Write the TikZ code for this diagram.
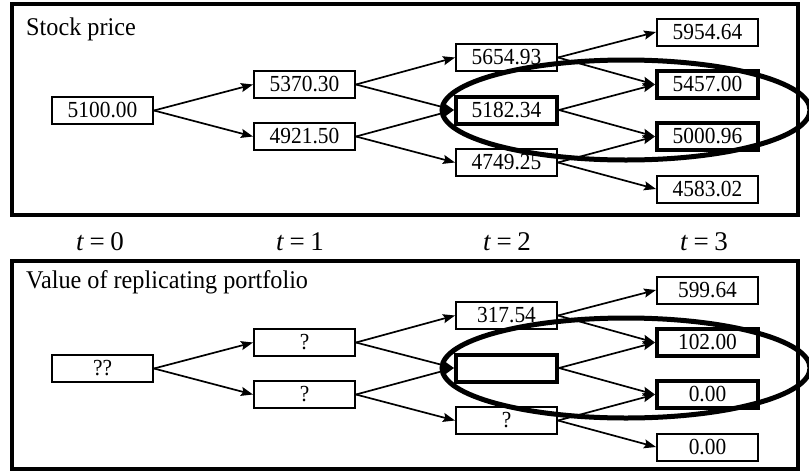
\documentclass[tikz,border=0pt]{standalone}
\usepackage{fontspec}
\setmainfont{Liberation Serif}
\newfontfamily\nodefont[FakeStretch=0.93]{Liberation Serif}
\newfontfamily\ttlfont[FakeStretch=0.95]{Liberation Serif}
\usetikzlibrary{arrows.meta}
\tikzset{
  box/.style={draw=black, line width=2pt, fill=white, minimum width=101pt, minimum height=27pt, inner sep=0pt, font=\nodefont\fontsize{23}{26}\selectfont},
  hbox/.style={box, line width=4pt},
  frame/.style={draw=black, line width=4pt},
  conn/.style={line width=1.7pt, -{Stealth[length=12pt,width=9pt,inset=2pt]}},
  ring/.style={draw=black, line width=5pt},
  ttl/.style={anchor=base west, inner sep=0pt, font=\ttlfont\fontsize{25.5}{28}\selectfont},
  tlab/.style={anchor=base, inner sep=0pt, font=\fontsize{27}{30}\selectfont}
}
\newcommand{\tlabel}[1]{\textit{t}\hspace{0.2em}=\hspace{0.2em}#1}
\begin{document}
\begin{tikzpicture}[x=1pt,y=-1pt]
\useasboundingbox (0,0) rectangle (809,472);
\fill[white] (0,0) rectangle (809,472);
% frames
\draw[frame] (12,4) rectangle (798,215);
\draw[frame] (12,261) rectangle (798,469);
\node[ttl] (tt1) at (26,35) {Stock price};
\node[ttl] (tt2) at (26,288) {Value of replicating portfolio};
% time labels
\node[tlab] (t0) at (100,250) {\tlabel{0}};
\node[tlab] (t1) at (300,250) {\tlabel{1}};
\node[tlab] (t2) at (507,250) {\tlabel{2}};
\node[tlab] (t3) at (704,250) {\tlabel{3}};
% stock tree
\node[box] (a0) at (102.5,110.5) {5100.00};
\node[box] (a1u) at (304.5,84.5) {5370.30};
\node[box] (a1d) at (304.5,136.5) {4921.50};
\node[box] (a2u) at (506.5,57.5) {5654.93};
\node[hbox] (a2m) at (506.5,110) {5182.34};
\node[box] (a2d) at (506.5,162.5) {4749.25};
\node[box] (a3a) at (707.5,32) {5954.64};
\node[hbox] (a3b) at (707.5,84.5) {5457.00};
\node[hbox] (a3c) at (707.5,136.5) {5000.96};
\node[box] (a3d) at (707.5,189) {4583.02};
\draw[conn] (a0.east) -- (a1u.west);
\draw[conn] (a0.east) -- (a1d.west);
\draw[conn] (a1u.east) -- (a2u.west);
\draw[conn] (a1u.east) -- (a2m.west);
\draw[conn] (a1d.east) -- (a2m.west);
\draw[conn] (a1d.east) -- (a2d.west);
\draw[conn] (a2u.east) -- (a3a.west);
\draw[conn] (a2u.east) -- (a3b.west);
\draw[conn] (a2m.east) -- (a3b.west);
\draw[conn] (a2m.east) -- (a3c.west);
\draw[conn] (a2d.east) -- (a3c.west);
\draw[conn] (a2d.east) -- (a3d.west);
\draw[ring] (626,110) ellipse [x radius=184, y radius=50];
% portfolio tree
\node[box] (b0) at (102.5,368.5) {??};
\node[box] (b1u) at (304.5,342.5) {?};
\node[box] (b1d) at (304.5,394.5) {?};
\node[box] (b2u) at (506.5,315.5) {317.54};
\node[hbox] (b2m) at (506.5,368) {};
\node[box] (b2d) at (506.5,420.5) {?};
\node[box] (b3a) at (707.5,290) {599.64};
\node[hbox] (b3b) at (707.5,342.5) {102.00};
\node[hbox] (b3c) at (707.5,394.5) {0.00};
\node[box] (b3d) at (707.5,447) {0.00};
\draw[conn] (b0.east) -- (b1u.west);
\draw[conn] (b0.east) -- (b1d.west);
\draw[conn] (b1u.east) -- (b2u.west);
\draw[conn] (b1u.east) -- (b2m.west);
\draw[conn] (b1d.east) -- (b2m.west);
\draw[conn] (b1d.east) -- (b2d.west);
\draw[conn] (b2u.east) -- (b3a.west);
\draw[conn] (b2u.east) -- (b3b.west);
\draw[conn] (b2m.east) -- (b3b.west);
\draw[conn] (b2m.east) -- (b3c.west);
\draw[conn] (b2d.east) -- (b3c.west);
\draw[conn] (b2d.east) -- (b3d.west);
\draw[ring] (626,368) ellipse [x radius=184, y radius=50];
\end{tikzpicture}
\end{document}
